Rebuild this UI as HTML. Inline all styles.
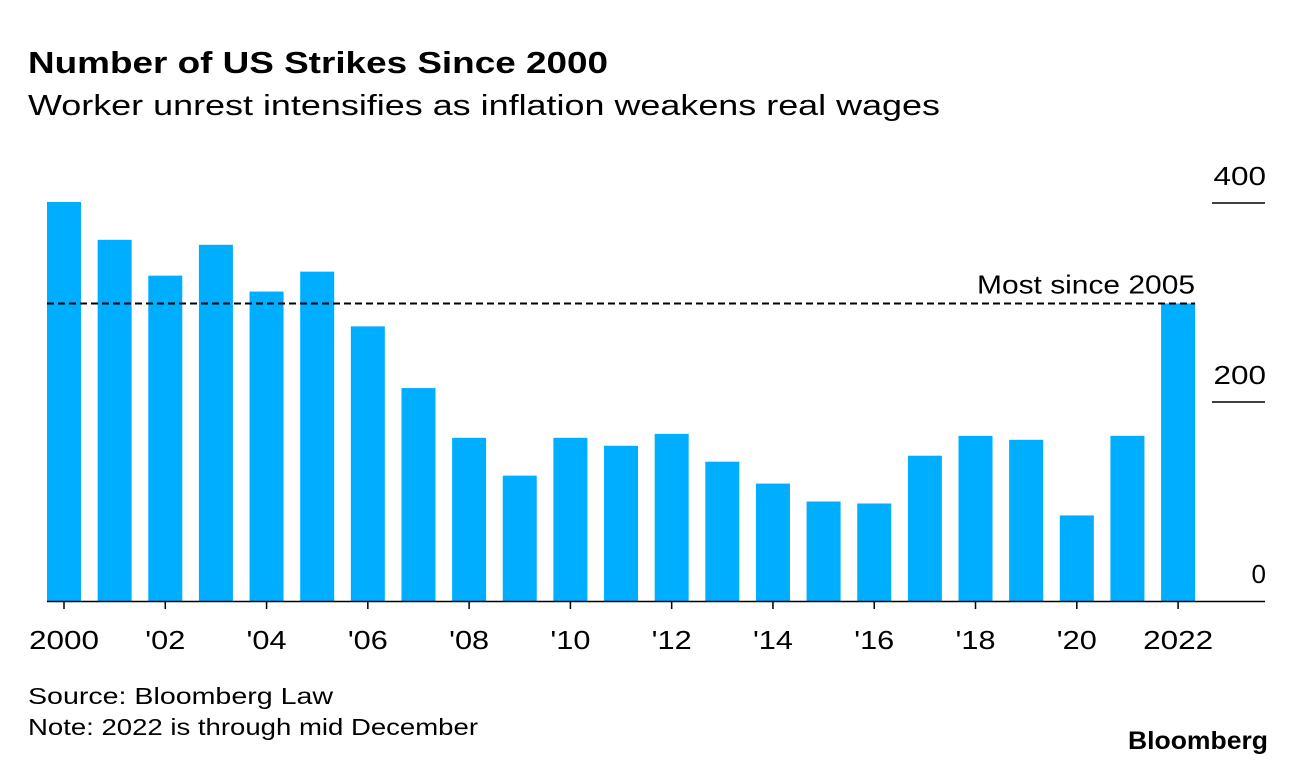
<!DOCTYPE html>
<html><head><meta charset="utf-8"><style>
body{margin:0;background:#fff;font-family:"Liberation Sans",Arial,sans-serif;}
svg text{font-family:"Liberation Sans",Arial,sans-serif;}
</style></head><body>
<svg id="chart" width="1296" height="766" xmlns="http://www.w3.org/2000/svg">
<text x="28" y="73" font-size="31" font-weight="bold" fill="#000" textLength="580" lengthAdjust="spacingAndGlyphs">Number of US Strikes Since 2000</text>
<text x="28" y="115" font-size="29" fill="#000" textLength="912" lengthAdjust="spacingAndGlyphs">Worker unrest intensifies as inflation weakens real wages</text>
<g id="bars"></g>
<g id="axes"></g>
<text x="28" y="704" font-size="23" fill="#000" textLength="305" lengthAdjust="spacingAndGlyphs">Source: Bloomberg Law</text>
<text x="28" y="735" font-size="23" fill="#000" textLength="450" lengthAdjust="spacingAndGlyphs">Note: 2022 is through mid December</text>
<text x="1128" y="749" font-size="25" font-weight="bold" fill="#000" textLength="140" lengthAdjust="spacingAndGlyphs">Bloomberg</text>
</svg>
<script>
const years=[2000,2001,2002,2003,2004,2005,2006,2007,2008,2009,2010,2011,2012,2013,2014,2015,2016,2017,2018,2019,2020,2021,2022];
const strikes=[401,363,327,358,311,331,276,214,164,126,164,156,168,140,118,100,98,146,166,162,86,166,299];
const yTicks=[0,200,400];
const xLabels=["2000","'02","'04","'06","'08","'10","'12","'14","'16","'18","'20","2022"];
const refValue=299;
const NS="http://www.w3.org/2000/svg";
const x=i=>64+i*50.64;
const y=v=>601-v*0.995;
const bars=document.getElementById('bars'),axes=document.getElementById('axes');
function mk(tag,attrs,parent){const e=document.createElementNS(NS,tag);for(const k in attrs)e.setAttribute(k,attrs[k]);parent.appendChild(e);return e;}
strikes.forEach((v,i)=>{
  const r=mk('rect',{x:x(i)-17,y:y(v),width:34,height:y(0)-y(v),fill:'#00aeff'},bars);
  
  
});
yTicks.forEach(t=>{
  if(t>0){const l=mk('line',{x1:1212,x2:1265,y1:y(t),y2:y(t),stroke:'#000','stroke-width':1.5},axes);
  
  }
  const tx=mk('text',{x:1266,y:y(t)-18,'font-size':26,'text-anchor':'end',fill:'#000'},axes);
  tx.textContent=t;
  if(t>0){tx.setAttribute('textLength',String(String(t).length*17.5));tx.setAttribute('lengthAdjust','spacingAndGlyphs');}
  
  
});
const ax=mk('line',{x1:47,x2:1265,y1:y(0)+0.5,y2:y(0)+0.5,stroke:'#000','stroke-width':1.5},axes);


xLabels.forEach((lab,k)=>{
  const i=k*2;
  const tk=mk('line',{x1:x(i),x2:x(i),y1:y(0),y2:y(0)+8,stroke:'#000','stroke-width':1.5},axes);
  
  
  const tx=mk('text',{x:x(i),y:649,'font-size':26,'text-anchor':'middle',fill:'#000',textLength:String(lab.length===4?70:40),lengthAdjust:'spacingAndGlyphs'},axes);
  tx.textContent=lab;
  
  
});
const d=mk('line',{x1:47,x2:x(22)+17,y1:y(refValue),y2:y(refValue),stroke:'#000','stroke-width':2,'stroke-dasharray':'7,4'},axes);


const dt=mk('text',{x:977,y:y(refValue)-10,'font-size':26,fill:'#000',textLength:'218',lengthAdjust:'spacingAndGlyphs'},axes);
dt.textContent='Most since 2005';


</script>
</body></html>
